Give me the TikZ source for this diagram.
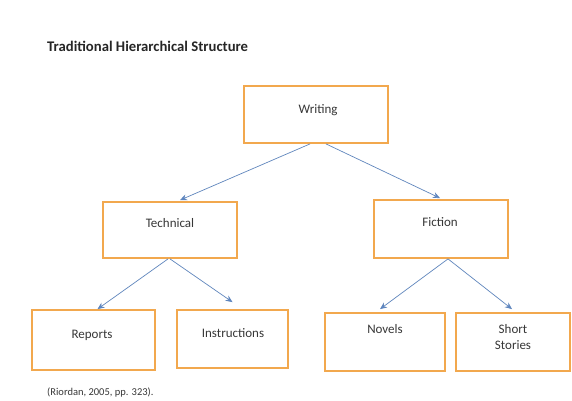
\documentclass[tikz,border=0pt]{standalone}
\usepackage{fontspec}
\setmainfont{Carlito}
\usetikzlibrary{arrows.meta}
\definecolor{boxorange}{RGB}{242,168,78}
\definecolor{arrowblue}{RGB}{90,135,200}
\definecolor{textgray}{RGB}{55,55,55}
\tikzset{
  box/.style={draw=boxorange, line width=1.8pt, fill=white, inner sep=0pt},
  lbl/.style={text=textgray, font=\fontsize{13}{16}\selectfont, align=center, inner sep=0pt},
  arr/.style={draw=arrowblue!85!gray, line width=0.7pt, -{Stealth[length=7pt,width=6pt,fill=arrowblue]}},
}
\begin{document}
\begin{tikzpicture}[x=1pt,y=-1pt]
\useasboundingbox (0,0) rectangle (572,400);
\fill[white] (0,0) rectangle (572,400);

% heading and source line
\node[anchor=west, text=black!85, font=\bfseries\fontsize{14.7}{17}\selectfont, inner sep=0pt] (title) at (47,46) {Traditional Hierarchical Structure};
\node[anchor=west, text=textgray, font=\fontsize{10.5}{12}\selectfont, inner sep=0pt] (cite) at (47,392) {(Riordan, 2005, pp. 323).};

% boxes of the hierarchy
\node[box, minimum width=144, minimum height=57] (w) at (316,114.5) {};
\node[box, minimum width=134, minimum height=56] (t) at (170,230) {};
\node[box, minimum width=134, minimum height=58] (f) at (441,229) {};
\node[box, minimum width=123, minimum height=60] (r) at (93.5,340) {};
\node[box, minimum width=111, minimum height=58] (i) at (232.5,339) {};
\node[box, minimum width=120, minimum height=58] (n) at (385,342) {};
\node[box, minimum width=114, minimum height=58] (s) at (513,342) {};

% labels, set in the upper part of each box
\node[lbl] (wl) at (318,110) {Writing};
\node[lbl] (tl) at (170,223) {Technical};
\node[lbl] (fl) at (440,222) {Fiction};
\node[lbl] (rl) at (92,335) {Reports};
\node[lbl] (il) at (233,333) {Instructions};
\node[lbl] (nl) at (385,329) {Novels};
\node[lbl] (sl) at (513,337) {Short\\Stories};

% connectors
\draw[arr] ([xshift=-6pt]w.south) -- ([xshift=10pt,yshift=1pt]t.north);
\draw[arr] ([xshift=10pt]w.south) -- ([xshift=-1pt,yshift=1pt]f.north);
\draw[arr] ([xshift=-2pt]t.south) -- ([xshift=4pt]r.north);
\draw[arr] ([xshift=0pt]t.south) -- ([yshift=7pt]i.north);
\draw[arr] ([xshift=7pt]f.south) -- ([xshift=-5pt,yshift=3pt]n.north);
\draw[arr] ([xshift=7pt]f.south) -- ([xshift=-1pt,yshift=3pt]s.north);
\end{tikzpicture}
\end{document}
